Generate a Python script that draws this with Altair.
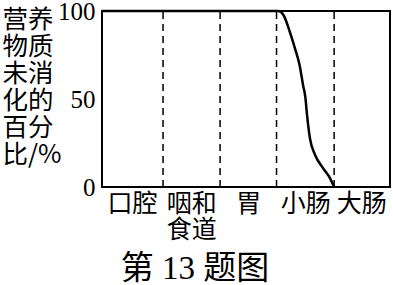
import altair as alt
import pandas as pd

categories = ["口腔", "咽和\n食道", "胃", "小肠", "大肠"]
boundaries = [1.06, 2.05, 3.03, 4.03]
curve_x = [0, 3.06, 3.15, 3.26, 3.35, 3.43, 3.49, 3.53, 3.56, 3.61, 3.70, 3.84, 3.96, 4.03]
curve_y = [100, 100, 97.7, 88.2, 78.8, 69.3, 58.0, 51.1, 40.9, 27.7, 18.2, 10.6, 4.9, 0]
y_ticks = [0, 50, 100]
y_title = ["营养", "物质", "未消", "化的", "百分", "比/%"]
chart_title = "第 13 题图"

curve_df = pd.DataFrame({"x": curve_x, "y": curve_y})
bound_df = pd.DataFrame({"x": boundaries, "y0": [0] * 4, "y1": [100] * 4})

cat_expr = "[" + ",".join("'" + c.replace("\n", "\\n") + "'" for c in categories) + "]"
label_expr = f"split({cat_expr}[floor(datum.value)], '\\n')"

xscale = alt.Scale(domain=[0, 5], nice=False, zero=False)
yscale = alt.Scale(domain=[0, 100], nice=False)

dashes = alt.Chart(bound_df).mark_rule(
    color="black", strokeWidth=1.5, strokeDash=[7, 5]
).encode(
    x=alt.X("x:Q", scale=xscale,
            axis=alt.Axis(values=[0.52, 1.55, 2.54, 3.53, 4.5], labelExpr=label_expr,
                          title=None, domain=False, ticks=False, grid=False,
                          labelFont="Noto Sans CJK SC", labelFontSize=25,
                          labelColor="black", labelPadding=4, labelLineHeight=26,
                          labelBaseline="top", labelFlush=False)),
    y=alt.Y("y0:Q", scale=yscale,
            axis=alt.Axis(values=y_ticks, title=y_title, titleAngle=0,
                          titleAlign="left", titleBaseline="top",
                          titleX=-100, titleY=-4, titleFont="Noto Sans CJK SC",
                          titleFontSize=25.5, titleFontWeight="normal",
                          titleLineHeight=27, titleColor="black",
                          domain=False, ticks=False, grid=False,
                          labelFont="Liberation Serif", labelFontSize=25,
                          labelColor="black", labelPadding=7, labelFlush=False)),
    y2="y1:Q",
)

curve = alt.Chart(curve_df).mark_line(
    color="black", strokeWidth=2.5, interpolate="monotone"
).encode(x=alt.X("x:Q", scale=xscale), y=alt.Y("y:Q", scale=yscale))

chart = alt.layer(dashes, curve).properties(
    width=288, height=176,
    background="white",
    autosize=alt.AutoSizeParams(type="none"),
    padding={"left": 102, "top": 11, "right": 3, "bottom": 98},
    title=alt.TitleParams(chart_title, orient="bottom", anchor="middle", dx=-51,
                          offset=11, font="Liberation Serif, Noto Sans CJK SC",
                          fontSize=33, fontWeight="normal", color="black",
                          baseline="top"),
).configure_view(stroke="black", strokeWidth=2)

chart.save("out.html", embed_options={"renderer": "svg", "actions": False})
